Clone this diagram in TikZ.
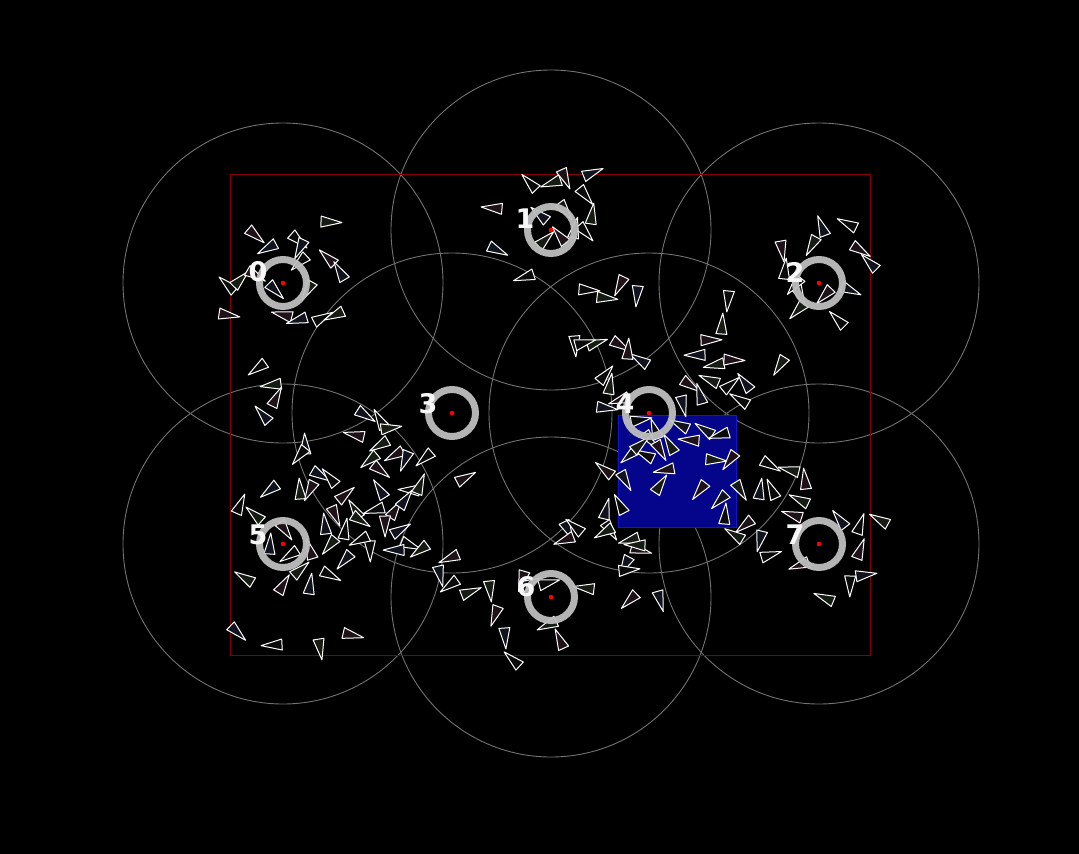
\documentclass[tikz,border=0pt]{standalone}
\usepackage{fontspec}
\setsansfont{DejaVu Sans}
\usetikzlibrary{positioning}
\definecolor{RangeColor}{RGB}{115,115,115}
\definecolor{FieldColor}{RGB}{135,0,0}
\definecolor{ZoneColor}{RGB}{5,5,140}
\definecolor{ZoneEdge}{RGB}{20,20,215}
\definecolor{RingColor}{RGB}{190,190,190}
\definecolor{AgentA}{RGB}{22,28,20}
\definecolor{AgentB}{RGB}{30,18,24}
\definecolor{AgentC}{RGB}{16,18,30}
\definecolor{AgentD}{RGB}{10,10,10}
\tikzset{
  sensorrange/.style={draw=RangeColor, line width=0.9pt},
  ring/.style={draw=RingColor, line width=7pt, opacity=0.95},
  agent/.style={draw=white, line width=1pt, line join=round},
  stationlabel/.style={text=white!94!gray, font=\sffamily\bfseries\fontsize{27}{27}\selectfont, inner sep=0pt}
}
\begin{document}
\begin{tikzpicture}[x=1pt, y=-1pt]
  % Background
  \fill[black] (0,0) rectangle (1079,854);
  \useasboundingbox (0,0) rectangle (1079,854);
  % Station positions
  \coordinate (c0) at (283,283);
  \coordinate (c1) at (551,230);
  \coordinate (c2) at (819,283);
  \coordinate (c3) at (452,413);
  \coordinate (c4) at (649,413);
  \coordinate (c5) at (283,544);
  \coordinate (c6) at (551,597);
  \coordinate (c7) at (819,544);
  % Sensing ranges
  \foreach \i in {0,...,7} {\draw[sensorrange] (c\i) circle (160);}
  % Field border
  \draw[FieldColor, line width=1.3pt] (230.5,174.5) rectangle (870.5,655.5);
  % Target zone
  \filldraw[fill=ZoneColor, draw=ZoneEdge, line width=1pt] (618,415) rectangle (736,527);
  % Agents
  \pgfmathsetseed{4217}
  \foreach \x/\y [count=\k] in {
    255/235, 268/248, 298/240, 330/222, 328/258, 340/272, 228/285, 240/280,
    255/275, 275/290, 300/262, 308/290, 283/315, 298/320, 322/318, 335/315,
    228/315, 300/248, 258/368, 272/385, 276/398, 263/415,
    530/183, 552/183, 565/178, 592/173, 585/195, 592/215, 565/210, 540/215,
    585/232, 545/240, 493/208, 497/250, 525/277, 575/229, 560/236,
    822/227, 848/224, 812/245, 860/250, 870/263, 785/270, 800/295, 825/295,
    850/290, 838/320, 798/310, 782/250, 795/285,
    588/290, 606/298, 620/285, 637/295, 728/300, 722/325, 710/340, 696/355,
    575/345, 596/343, 620/345, 640/360, 605/375, 610/385, 620/400, 606/408,
    584/343, 715/365, 733/360, 745/383, 730/385, 780/365, 690/385, 700/395,
    740/400, 710/380, 628/350, 683/405,
    640/420, 650/440, 660/450, 630/455, 645/455, 670/445, 690/440, 705/430,
    720/435, 715/460, 730/460, 625/480, 620/505, 660/485, 700/490, 720/500,
    725/515, 740/490, 745/525, 760/540, 770/555, 735/535, 605/470, 606/510,
    610/530, 630/540, 640/550, 625/565, 655/430, 640/445, 665/470, 680/425,
    770/465, 790/470, 805/480, 760/490, 772/490, 800/500, 793/515, 840/520,
    860/525, 880/520, 860/550, 865/575, 850/585, 825/598, 800/565,
    365/415, 380/420, 390/428, 355/435, 305/445, 300/455, 380/445, 395/455,
    405/460, 425/458, 370/460, 380/470, 320/475, 330/478, 300/490, 310/490,
    270/490, 240/505, 255/515, 345/495, 380/490, 410/490, 420/485, 395/510,
    405/500, 375/510, 355/510, 335/515, 325/525, 345/530, 360/520, 385/525,
    400/530, 410/545, 420/550, 450/558, 395/550, 370/550, 330/545, 310/550,
    345/560, 290/555, 300/570, 283/585, 310/585, 330/575, 245/578, 465/478,
    440/575, 450/585, 470/592, 285/530, 270/545, 360/540,
    490/590, 522/580, 530/583, 548/583, 585/588, 495/615, 505/637, 513/660,
    548/625, 560/640, 568/530, 575/527, 605/532, 630/600, 660/600, 628/570,
    636/545, 565/540,
    237/632, 273/645, 320/648, 352/635} {
    \pgfmathsetmacro{\ang}{rnd*360}
    \pgfmathtruncatemacro{\tint}{mod(\k,4)}
    \ifcase\tint \def\tcol{AgentA}\or \def\tcol{AgentB}\or \def\tcol{AgentC}\else \def\tcol{AgentD}\fi
    \filldraw[agent, fill=\tcol, shift={(\x,\y)}, rotate=\ang]
      (12,0) -- (-9,5.5) -- (-9,-5.5) -- cycle;
  }
  % Stations
  \foreach \i in {0,...,7} {
    \draw[ring] (c\i) circle (23.5);
    \fill[red] (c\i) circle (2.3);
  }
  % Station labels
  \node[stationlabel] (lbl0) at (258,272) {0};
  \node[stationlabel] (lbl1) at (525,219) {1};
  \node[stationlabel] (lbl2) at (795,272) {2};
  \node[stationlabel] (lbl3) at (428,404) {3};
  \node[stationlabel] (lbl4) at (625,404) {4};
  \node[stationlabel] (lbl5) at (258,535) {5};
  \node[stationlabel] (lbl6) at (526,587) {6};
  \node[stationlabel] (lbl7) at (795,535) {7};
\end{tikzpicture}
\end{document}
